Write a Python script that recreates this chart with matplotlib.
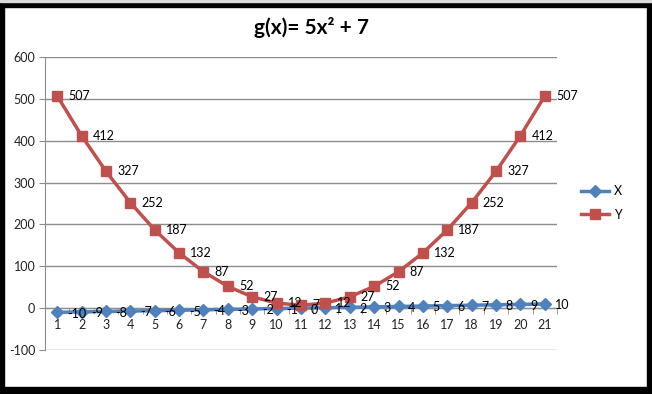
import matplotlib.pyplot as plt
from matplotlib.patches import Rectangle

# chart data
categories = list(range(1, 22))
x_values = [-10, -9, -8, -7, -6, -5, -4, -3, -2, -1, 0, 1, 2, 3, 4, 5, 6, 7, 8, 9, 10]
y_values = [507, 412, 327, 252, 187, 132, 87, 52, 27, 12, 7, 12, 27, 52, 87, 132, 187, 252, 327, 412, 507]
y_ticks = [-100, 0, 100, 200, 300, 400, 500, 600]

plt.rcParams['font.family'] = ['Lato', 'DejaVu Sans']

fig = plt.figure(figsize=(6.52, 3.94), dpi=100)
ax = fig.add_axes([45 / 652, 1 - 350 / 394, (557 - 45) / 652, (350 - 57) / 394])

blue = '#4F81BD'
red = '#C0504D'
grid_col = '#8C8C8C'

ax.plot(categories, x_values, color=blue, lw=2.5, marker='D', ms=6.5,
        mec=blue, mfc=blue, label='X', zorder=3)
ax.plot(categories, y_values, color=red, lw=2.5, marker='s', ms=7.5,
        mec=red, mfc=red, label='Y', zorder=4)

for c, v in zip(categories, x_values):
    ax.annotate(str(v), (c, v), xytext=(7, -1), textcoords='offset points',
                ha='left', va='center', fontsize=9, color='black', zorder=5)
for c, v in zip(categories, y_values):
    ax.annotate(str(v), (c, v), xytext=(8, 0), textcoords='offset points',
                ha='left', va='center', fontsize=9, color='black', zorder=5)

ax.set_xlim(0.5, 21.5)
ax.set_ylim(-100, 600)
ax.set_yticks(y_ticks)
ax.set_yticklabels([str(t) for t in y_ticks])
ax.set_xticks(categories)
ax.set_xticklabels([str(c) for c in categories])
ax.set_xticks([c + 0.5 for c in range(0, 22)], minor=True)

ax.grid(axis='y', color=grid_col, lw=1)
ax.set_axisbelow(True)

for s in ['top', 'right']:
    ax.spines[s].set_visible(False)
ax.spines['left'].set_color(grid_col)
ax.spines['bottom'].set_color(grid_col)
ax.spines['bottom'].set_position(('data', 0))
ax.spines['bottom'].set_zorder(2)

ax.tick_params(axis='y', length=4, color=grid_col, labelsize=9, labelcolor='#222222', pad=3)
ax.tick_params(axis='x', which='major', length=0, labelsize=9, labelcolor='#222222', pad=8)
ax.tick_params(axis='x', which='minor', length=4, color=grid_col, direction='out')

fig.text(312 / 652, 1 - 28 / 394, 'g(x)= 5x² + 7', ha='center', va='center',
         fontsize=15, fontweight='bold', color='black')

leg = fig.legend(loc='center left', bbox_to_anchor=(570 / 652, 1 - 203 / 394),
                 frameon=False, fontsize=9, handlelength=2.2, labelspacing=0.9,
                 handletextpad=0.4)

# black frame around the chart
fig.patches.append(Rectangle((0, 1 - 7 / 394), 1, 5 / 394, transform=fig.transFigure,
                             color='black', zorder=10))
fig.patches.append(Rectangle((0, 0), 4 / 652, 1 - 2 / 394, transform=fig.transFigure,
                             color='black', zorder=10))
fig.patches.append(Rectangle((647 / 652, 0), 5 / 652, 1 - 2 / 394, transform=fig.transFigure,
                             color='black', zorder=10))
fig.patches.append(Rectangle((0, 0), 1, 7 / 394, transform=fig.transFigure,
                             color='black', zorder=10))
fig.patches.append(Rectangle((0, 1 - 2 / 394), 1, 2 / 394, transform=fig.transFigure,
                             color='#D9D9D9', zorder=10))

fig.savefig('out.png', dpi=100)
plt.close(fig)
